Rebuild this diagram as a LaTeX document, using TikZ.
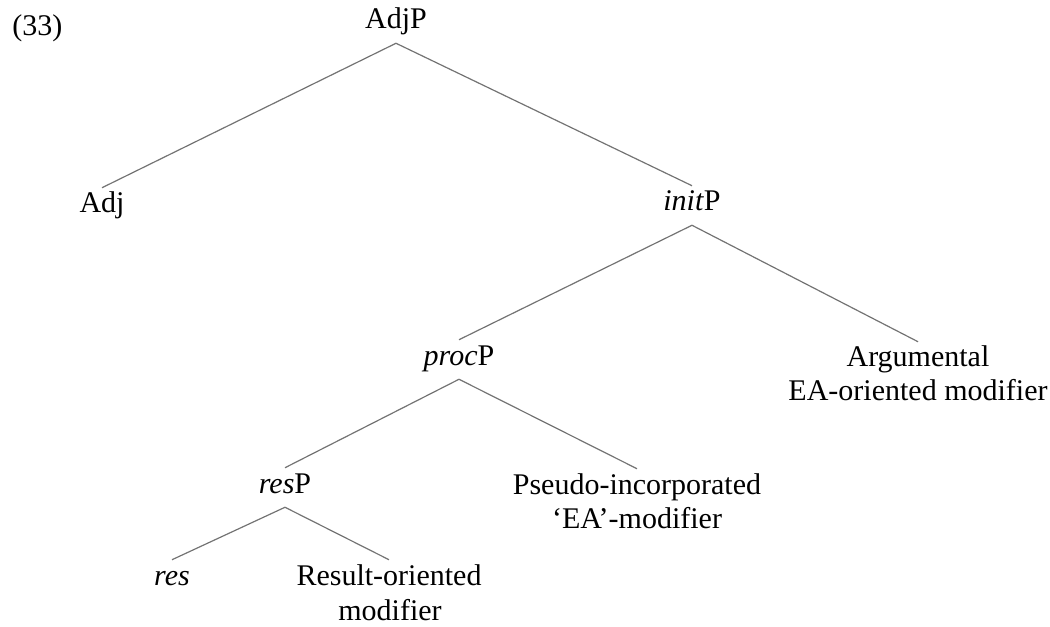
\documentclass[tikz,border=0pt]{standalone}
\usepackage{fontspec}
\setmainfont{Liberation Serif}
\begin{document}
\begin{tikzpicture}[x=0.75pt,y=-0.75pt,
  lbl/.style={font=\fontsize{22.5}{27}\selectfont, anchor=base,
    inner xsep=0pt, inner ysep=4.5pt, text height=14.25pt, text depth=6pt},
  branch/.style={draw=black!55, line width=0.9pt}]
\useasboundingbox (0,0) rectangle (1050,627);

% example number
\node[lbl, anchor=base west] (ex) at (12,36) {(33)};

% tree labels (second lines of two-line labels set as their own nodes)
\node[lbl] (adjp) at (396,29) {AdjP};
\node[lbl] (adj) at (102,213) {Adj};
\node[lbl] (initp) at (692,211) {\textit{init}P};
\node[lbl] (procp) at (459,365) {\textit{proc}P};
\node[lbl] (arg) at (918,367) {Argumental};
\node[lbl] (arg2) at (918,401) {EA-oriented modifier};
\node[lbl] (resp) at (285,493) {\textit{res}P};
\node[lbl] (pseudo) at (637,494) {Pseudo-incorporated};
\node[lbl] (pseudo2) at (637,528) {‘EA’-modifier};
\node[lbl] (res) at (172,585) {\textit{res}};
\node[lbl] (result) at (389,585) {Result-oriented};
\node[lbl] (result2) at (390,620) {modifier};

% branches
\draw[branch] (adjp.south) -- (adj.north);
\draw[branch] (adjp.south) -- (initp.north);
\draw[branch] (initp.south) -- (procp.north);
\draw[branch] (initp.south) -- (arg.north);
\draw[branch] (procp.south) -- (resp.north);
\draw[branch] (procp.south) -- (pseudo.north);
\draw[branch] (resp.south) -- (res.north);
\draw[branch] (resp.south) -- (result.north);
\end{tikzpicture}
\end{document}
